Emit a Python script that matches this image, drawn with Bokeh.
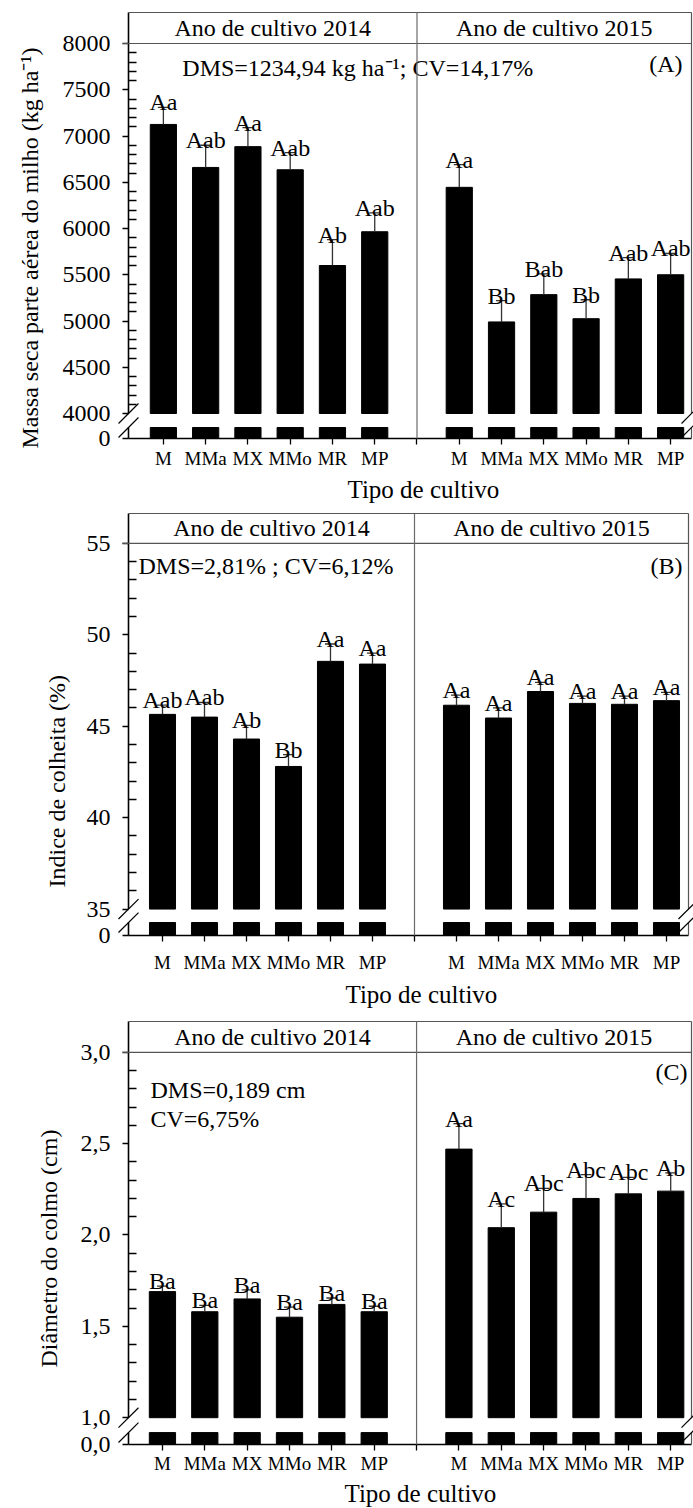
import math
from bokeh.plotting import figure
from bokeh.models import FixedTicker, Label, Range1d, Title
from bokeh.layouts import column
from bokeh.embed import file_html
from bokeh.resources import INLINE
from bokeh.core.properties import value

# ------------------------------------------------------------------ data
cultivos = ["M", "MMa", "MX", "MMo", "MR", "MP"]
anos = ["Ano de cultivo 2014", "Ano de cultivo 2015"]
titulo_x = "Tipo de cultivo"

# (A) massa seca da parte aérea (kg/ha)
massa_2014 = [7125, 6660, 6885, 6635, 5600, 5965]
massa_2014_ep = [185, 240, 205, 185, 280, 205]
massa_2015 = [6445, 4990, 5285, 5025, 5455, 5500]
massa_2015_ep = [245, 230, 225, 205, 230, 230]
massa_letras_2014 = ["Aa", "Aab", "Aa", "Aab", "Ab", "Aab"]
massa_letras_2015 = ["Aa", "Bb", "Bab", "Bb", "Aab", "Aab"]
massa_ticks = [4000, 4500, 5000, 5500, 6000, 6500, 7000, 7500, 8000]
massa_tick_labels = ["4000", "4500", "5000", "5500", "6000", "6500", "7000", "7500", "8000"]
massa_zero_label = "0"
massa_minor_step = 100
massa_titulo = "Massa seca parte aérea do milho (kg ha\u207b\u00b9)"
massa_notas = ["DMS=1234,94 kg ha\u207b\u00b9; CV=14,17%"]
massa_painel = "(A)"

# (B) índice de colheita (%)
ic_2014 = [45.65, 45.5, 44.3, 42.8, 48.55, 48.4]
ic_2014_ep = [0.5, 0.8, 0.75, 0.65, 0.95, 0.6]
ic_2015 = [46.15, 45.45, 46.9, 46.25, 46.2, 46.4]
ic_2015_ep = [0.55, 0.55, 0.5, 0.4, 0.45, 0.45]
ic_letras_2014 = ["Aab", "Aab", "Ab", "Bb", "Aa", "Aa"]
ic_letras_2015 = ["Aa", "Aa", "Aa", "Aa", "Aa", "Aa"]
ic_ticks = [35, 40, 45, 50, 55]
ic_tick_labels = ["35", "40", "45", "50", "55"]
ic_zero_label = "0"
ic_minor_step = 1
ic_titulo = "Indice de colheita (%)"
ic_notas = ["DMS=2,81% ; CV=6,12%"]
ic_painel = "(B)"

# (C) diâmetro do colmo (cm)
dc_2014 = [1.69, 1.58, 1.65, 1.55, 1.62, 1.58]
dc_2014_ep = [0.03, 0.035, 0.05, 0.055, 0.035, 0.03]
dc_2015 = [2.47, 2.04, 2.125, 2.20, 2.225, 2.24]
dc_2015_ep = [0.14, 0.13, 0.13, 0.13, 0.09, 0.10]
dc_letras_2014 = ["Ba", "Ba", "Ba", "Ba", "Ba", "Ba"]
dc_letras_2015 = ["Aa", "Ac", "Abc", "Abc", "Abc", "Ab"]
dc_ticks = [1.0, 1.5, 2.0, 2.5, 3.0]
dc_tick_labels = ["1,0", "1,5", "2,0", "2,5", "3,0"]
dc_zero_label = "0,0"
dc_minor_step = 0.1
dc_titulo = "Diâmetro do colmo (cm)"
dc_notas = ["DMS=0,189 cm", "CV=6,75%"]
dc_painel = "(C)"

# ------------------------------------------------------------------ style
FONT = "Liberation Serif"
FS = "24px"
AXC = "#000000"
FRC = "#555555"
DIVC = "#6a6a6a"


def painel(v14, e14, v15, e15, l14, l15, ticks, tick_labels, zero_label,
           minor_step, titulo_y, notas, tag, g):
    off = g["off"]
    h = g["h"]
    dx = g["dx"]
    x0 = g["x0"]
    ppu = (g["brk_px"] - g["top_px"]) / (ticks[-1] - ticks[0])
    brk = ticks[0]
    top = ticks[-1]

    def X(px):
        return (px - x0) / dx

    def Y(py):
        return top - (py - g["top_px"]) / ppu

    xs = X(g["L"])           # frame left = y axis
    xr = X(g["R"])           # right frame line
    xe = X(693)
    ys, ye = Y(g["B"]), Y(g["T"] - 1)
    yt = Y(g["T"])
    stub = Y(g["stub_px"])

    p = figure(width=693, height=h, x_range=Range1d(xs, xe), y_range=Range1d(ys, ye),
               output_backend="svg", toolbar_location=None,
               min_border_left=g["L"], min_border_right=0,
               min_border_top=g["T"] - 1 - off, min_border_bottom=off + h - g["B"])
    p.grid.visible = False
    p.outline_line_color = None
    p.background_fill_color = "white"
    p.border_fill_color = "white"

    n = len(cultivos)
    pos14 = list(range(n))
    pos15 = [n + 1 + i for i in range(n)]
    div = n
    pos = pos14 + pos15
    vals = list(v14) + list(v15)
    eps = list(e14) + list(e15)
    tops = [v + e for v, e in zip(vals, eps)]
    letras = list(l14) + list(l15)

    # bars (upper part) and the stubs below the axis break
    p.vbar(x=pos, top=vals, bottom=brk, width=0.62, fill_color="black", line_color="black")
    p.vbar(x=pos, top=stub, bottom=ys, width=0.62, fill_color="black", line_color="black")
    # upper error bars
    cw = 5.5 / dx
    p.segment(x0=pos, y0=vals, x1=pos, y1=tops, line_color="#333333", line_width=1.3)
    p.segment(x0=[x - cw for x in pos], y0=tops, x1=[x + cw for x in pos], y1=tops,
              line_color="#333333", line_width=1.3)
    lift = 5 / ppu
    p.text(x=pos, y=[t + lift for t in tops], text=letras, text_align="center",
           text_baseline="alphabetic", text_font=value(FONT), text_font_size=FS,
           text_color="black")

    # x axis
    xa = p.xaxis[0]
    xa.ticker = FixedTicker(ticks=pos14 + [div] + pos15)
    xa.bounds = (xs, xr)
    ov = {float(x): c for x, c in zip(pos14, cultivos)}
    ov.update({float(x): c for x, c in zip(pos15, cultivos)})
    ov[float(div)] = ""
    xa.major_label_overrides = ov
    xa.major_tick_in = 0
    xa.major_tick_out = 6
    xa.minor_tick_line_color = None
    xa.axis_line_color = AXC
    xa.axis_line_width = 1.5
    xa.major_tick_line_color = AXC
    xa.major_tick_line_width = 1.3
    xa.major_label_standoff = g["xstand"]
    xa.major_label_text_font = FONT
    xa.major_label_text_font_size = "19px"
    xa.major_label_text_color = "black"

    # y axis
    ya = p.yaxis[0]
    k = int(round((top - brk) / minor_step))
    minors = [round(brk + i * minor_step, 6) for i in range(1, k)]
    minors = [m for m in minors if all(abs(m - t) > 1e-9 for t in ticks)]
    ya.ticker = FixedTicker(ticks=[ys] + list(ticks), minor_ticks=minors)
    yov = {float(t): s for t, s in zip(ticks, tick_labels)}
    yov[float(ys)] = zero_label
    ya.major_label_overrides = yov
    ya.axis_line_color = None
    ya.major_tick_in = 0
    ya.major_tick_out = 6
    ya.minor_tick_in = 8
    ya.minor_tick_out = 0
    ya.major_tick_line_color = AXC
    ya.minor_tick_line_color = AXC
    ya.major_tick_line_width = 1.5
    ya.minor_tick_line_width = 1.5
    ya.major_label_standoff = 12
    ya.major_label_text_font = FONT
    ya.major_label_text_font_size = FS
    ya.major_label_text_color = "black"

    # frame lines, year divider, header box and axis-break marks (overlay level: not clipped)
    hx = 10 / dx
    hy = 10 / ppu
    segs = [
        (xs, brk, xs, yt, AXC, 1.6),          # left axis, upper part
        (xs, ys, xs, stub, AXC, 1.6),         # left axis, lower part
        (xr, brk, xr, yt, FRC, 1.2),          # right frame, upper part
        (xr, ys, xr, stub, FRC, 1.2),         # right frame, lower part
        (xs, yt, xr, yt, FRC, 1.2),           # header top
        (xs - 6 / dx, top, xr, top, FRC, 1.2),  # header bottom
        (div, ys, div, yt, DIVC, 1.2),        # year divider
    ]
    for xx in (xs, xr):
        for yy in (brk, stub):
            segs.append((xx - hx, yy - hy, xx + hx, yy + hy, AXC, 1.2))
    for x0_, y0_, x1_, y1_, c, w in segs:
        p.segment(x0=[x0_], y0=[y0_], x1=[x1_], y1=[y1_], line_color=c, line_width=w,
                  level="overlay")

    # header texts
    yh = (top + yt) / 2
    for xc, txt in (((xs + div) / 2, anos[0]), ((div + xr) / 2, anos[1])):
        p.add_layout(Label(x=xc, y=yh, text=txt, text_align="center", text_baseline="middle",
                           text_font=FONT, text_font_size=FS, text_color="black"))
    # DMS / CV notes
    for (px, py), txt in zip(g["notas"], notas):
        p.add_layout(Label(x=X(px), y=Y(py), text=txt, text_align="left", text_baseline="middle",
                           text_font=FONT, text_font_size=FS, text_color="black"))
    px, py = g["tag"]
    p.add_layout(Label(x=X(px), y=Y(py), text=tag, text_align="right", text_baseline="middle",
                       text_font=FONT, text_font_size=FS, text_color="black"))

    # axis titles (side panels)
    p.add_layout(Title(text=titulo_y, align="left", offset=g["B"] - g["ystart"],
                       vertical_align="top", standoff=g["ystand"],
                       text_font=FONT, text_font_size=g["yfs"], text_font_style="normal",
                       text_color="black"), "left")
    p.add_layout(Title(text=titulo_x, align="left", offset=g["xstart"] - g["L"],
                       standoff=g["xtstand"],
                       text_font=FONT, text_font_size="25px", text_font_style="normal",
                       text_color="black"), "below")
    return p


gA = dict(off=0, h=505, L=126, R=691, T=12, B=438, top_px=43, brk_px=413, stub_px=427,
          x0=161, dx=42.42, xstand=3, xtstand=4, xstart=345, ystart=448, ystand=30, yfs="24px",
          notas=[(180, 67)], tag=(682, 63))
gB = dict(off=505, h=505, L=128, R=688, T=513, B=936, top_px=543, brk_px=909.5, stub_px=923,
          x0=162, dx=42.0, xstand=10, xtstand=6, xstart=345, ystart=888, ystand=23, yfs="24px",
          notas=[(138, 566)], tag=(682, 566))
gC = dict(off=1010, h=498, L=127, R=691, T=1021, B=1447, top_px=1052, brk_px=1420, stub_px=1435,
          x0=161, dx=42.43, xstand=2, xtstand=3, xstart=343, ystart=1370, ystand=28, yfs="24px",
          notas=[(149, 1090), (149, 1119)], tag=(687, 1072))

pA = painel(massa_2014, massa_2014_ep, massa_2015, massa_2015_ep, massa_letras_2014,
            massa_letras_2015, massa_ticks, massa_tick_labels, massa_zero_label,
            massa_minor_step, massa_titulo, massa_notas, massa_painel, gA)
pB = painel(ic_2014, ic_2014_ep, ic_2015, ic_2015_ep, ic_letras_2014, ic_letras_2015,
            ic_ticks, ic_tick_labels, ic_zero_label, ic_minor_step, ic_titulo, ic_notas,
            ic_painel, gB)
pC = painel(dc_2014, dc_2014_ep, dc_2015, dc_2015_ep, dc_letras_2014, dc_letras_2015,
            dc_ticks, dc_tick_labels, dc_zero_label, dc_minor_step, dc_titulo, dc_notas,
            dc_painel, gC)

layout = column(pA, pB, pC, spacing=0)
open("out.html", "w").write(file_html(layout, INLINE))
